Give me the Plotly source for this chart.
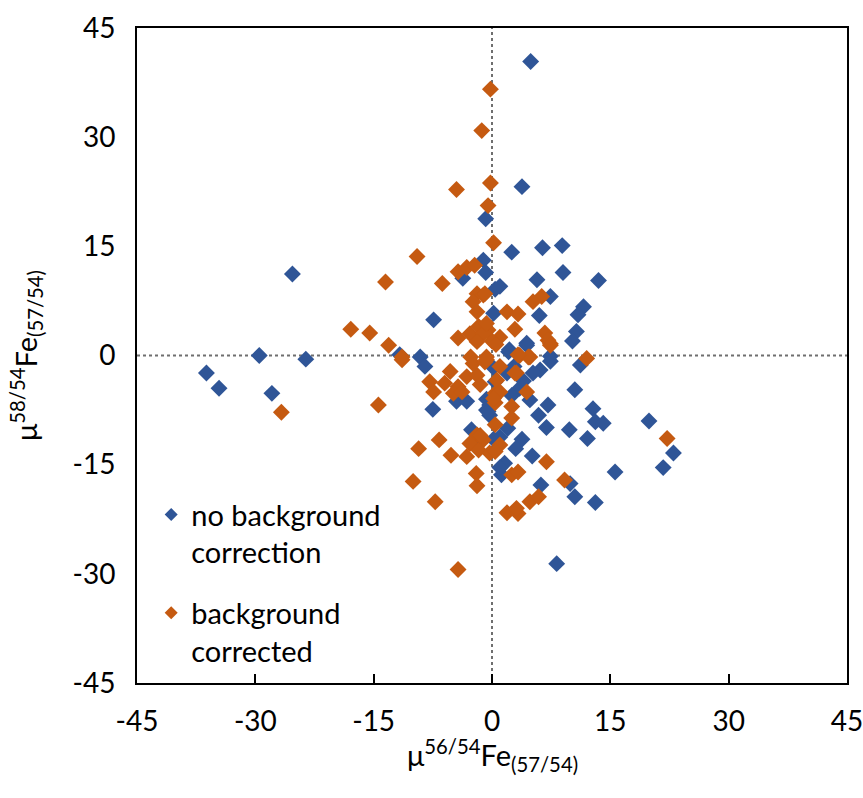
import plotly.graph_objects as go

# mu56/54Fe(57/54) vs mu58/54Fe(57/54), per-analysis values (ppm-style units)
raw_x = [4.9, 3.8, -0.8, 2.5, 6.4, 8.9, -1.1, 9.0, 13.5, -0.8, -3.7, 5.7, 1.0, 0.4, 7.4,
         11.6, 10.9, 6.0, 0.2, -7.4, 10.7, 10.2, 4.4, 2.2, 7.4, -25.3, -29.5, -23.6, -36.2,
         -34.6, -27.9, -11.7, -9.1, -8.5, -7.5, -4.5, -3.2, -2.6, 0.2, 0.4, -0.3, -0.7, -0.3,
         11.2, 10.5, 12.8, 13.1, 14.1, 9.8, 12.1, 19.9, 23.0, 21.7, 15.6, 10.5, 13.1, 9.9,
         8.2, 6.2, 5.1, 3.8, 1.2, 1.6, 7.1, 5.9, 6.9, 4.8, 7.4, 6.1, 5.2, 2.1, 4.4, 2.8, 1.9,
         2.0, 1.0, 0.2, 1.0, -0.7, -0.5, 3.5, 2.5, 4.0, -2.3, 3.0]
raw_y = [40.4, 23.2, 18.8, 14.2, 14.8, 15.1, 13.1, 11.4, 10.3, 11.4, 10.6, 10.4, 9.5, 9.1, 8.1,
         6.7, 5.6, 5.5, 5.8, 4.9, 3.3, 2.0, 1.7, 0.8, -0.1, 11.2, 0.0, -0.5, -2.4,
         -4.5, -5.2, 0.1, -0.2, -1.5, -7.4, -6.3, -6.3, -10.2, -1.7, -3.6, -6.8, -7.5, -8.2,
         -1.3, -4.7, -7.3, -9.1, -9.3, -10.2, -11.4, -9.0, -13.4, -15.4, -16.0, -19.4, -20.2, -17.6,
         -28.6, -17.8, -13.8, -11.5, -16.4, -14.8, -6.8, -8.2, -9.9, -6.1, -0.8, -2.0, -2.4, 0.5, 1.4, -1.5, -2.4,
         -10.0, -11.2, -11.5, -15.4, -6.0, -7.7, -4.5, -5.5, -3.5, -12.0, -12.8]

cor_x = [-0.2, -1.3, -0.2, -4.5, -0.5, 0.2, -9.5, -4.3, -3.2, -2.2, -13.5, -6.3, -1.9, -1.1,
         -0.9, -2.4, -1.9, 6.3, 5.2, 1.9, 3.3, 2.9, 6.7, 7.4, 1.0, -0.5, 0.0, 0.5, 12.0, 3.5,
         4.8, -17.9, -15.5, -13.1, -4.3, -2.8, -1.7, -1.1, -1.9, -0.7, -11.4, -11.4, -2.7, -0.7,
         -14.4, -7.9, -7.4, -5.3, -6.0, -4.3, -4.9, -3.8, -3.2, -1.9, -2.4, -0.9, 0.4, 0.4,
         -1.9, -1.1, -2.8, -1.7, -0.3, -3.2, -6.7, -9.3, -5.2, -2.0, -1.9, -10.0, -7.2, -4.3,
         -26.7, 22.2, 9.2, 6.9, 4.8, 5.9, 1.9, 3.3, 3.1, 2.5, 3.3, 4.4, 3.1, 4.6, 3.3, 2.5, 2.5,
         0.4, 1.0, 0.4, -1.5, 7.1, 7.4, 0.6, 1.0, 0.2, -0.7, 2.9, -1.5, 1.0]
cor_y = [36.6, 30.9, 23.7, 22.8, 20.6, 15.5, 13.6, 11.5, 12.1, 12.4, 10.1, 9.9, 8.5, 8.3,
         8.5, 7.4, 6.0, 8.1, 7.4, 6.0, 5.7, 3.6, 3.1, 1.6, 2.5, 3.5, 2.0, 1.5, -0.4, 0.0,
         -0.2, 3.6, 3.1, 1.4, 2.4, 3.0, 4.0, 3.0, 1.9, 4.4, -0.2, -0.6, -0.2, -0.2,
         -6.8, -3.6, -5.0, -2.2, -3.8, -4.3, -5.2, -5.0, -2.9, -2.7, -1.1, -0.9, -5.2, -6.5,
         -10.9, -11.6, -12.1, -13.0, -13.4, -13.9, -11.6, -12.8, -13.7, -16.2, -17.9, -17.3, -20.1, -29.4,
         -7.8, -11.4, -17.1, -14.6, -20.1, -19.4, -21.6, -21.7, -21.0, -16.4, -16.0, -5.0, -2.4, -0.2, 0.1, -7.0, -8.6,
         -9.5, -12.3, -13.2, -11.0, 2.1, 1.4, -3.4, -5.0, -5.9, -0.6, -2.4, -4.0, -1.5]

series_names = ["no background<br>correction", "background<br>corrected"]
series_colors = ["#2F5597", "#C55A11"]
tick_vals = [-45, -30, -15, 0, 15, 30, 45]
tick_text = ["-45", "-30", "-15", "0", "15", "30", "45"]
x_title = "μ<sup>56/54</sup>Fe<sub>(57/54)</sub>"
y_title = "μ<sup>58/54</sup>Fe<sub>(57/54)</sub>"

FONT = "Lato, 'Open Sans', sans-serif"

fig = go.Figure()
for (xs, ys), name, color, grp in zip([(raw_x, raw_y), (cor_x, cor_y)], series_names,
                                      series_colors, ["raw", "cor"]):
    fig.add_trace(go.Scatter(
        x=xs, y=ys, mode="markers", name=name, showlegend=False,
        marker=dict(symbol="diamond", size=13, color=color, line=dict(width=0)),
        hoverinfo="x+y",
    ))
    # smaller key symbol for the legend
    fig.add_trace(go.Scatter(
        x=[None], y=[None], mode="markers", name=name, legendgroup=grp,
        marker=dict(symbol="diamond", size=10, color=color, line=dict(width=0)),
    ))

# dotted reference lines through the origin
for shp in [dict(x0=0, x1=0, y0=-45, y1=45), dict(x0=-45, x1=45, y0=0, y1=0)]:
    fig.add_shape(type="line", xref="x", yref="y", layer="below",
                  line=dict(color="#6f6f6f", width=2, dash="dot"), **shp)

axis_common = dict(
    range=[-45, 45], tickvals=tick_vals, ticktext=tick_text, showgrid=False, zeroline=False,
    showline=True, linecolor="black", linewidth=2, mirror=True, automargin=False,
    tickfont=dict(family=FONT, size=28, color="#000"), ticklabeloverflow="allow",
)

# axis titles placed as annotations for precise positioning
fig.add_annotation(text=x_title, xref="paper", yref="paper", x=0.5, y=-0.11,
                   xanchor="center", yanchor="middle", showarrow=False,
                   font=dict(family=FONT, size=29, color="#000"))
fig.add_annotation(text=y_title, xref="paper", yref="paper", x=-0.157, y=0.5,
                   xanchor="center", yanchor="middle", showarrow=False, textangle=-90,
                   font=dict(family=FONT, size=29, color="#000"))

fig.update_layout(
    width=863, height=798,
    margin=dict(l=137, r=16, t=28, b=115),
    paper_bgcolor="white", plot_bgcolor="white",
    font=dict(family=FONT, color="#000"),
    xaxis=dict(**axis_common, ticks="inside", ticklen=9, tickwidth=1.5, tickcolor="black",
               ticklabelstandoff=12),
    yaxis=dict(**axis_common, ticks="", ticklabelstandoff=14),
    legend=dict(x=0.02, y=0.296, xanchor="left", yanchor="top", bgcolor="rgba(0,0,0,0)",
                font=dict(family=FONT, size=29), valign="top",
                traceorder="grouped", tracegroupgap=20, itemwidth=30),
    showlegend=True,
)

fig.write_html("out.html")
